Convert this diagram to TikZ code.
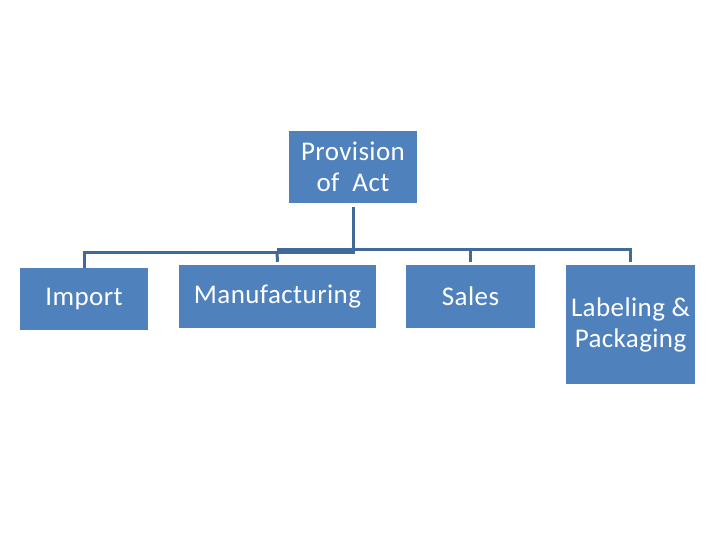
\documentclass[tikz,border=0pt]{standalone}
\usepackage{fontspec}
\setmainfont{Carlito}[LetterSpace=1.5]
\definecolor{boxblue}{HTML}{4F81BD}
\definecolor{lineblue}{HTML}{416A9B}
\begin{document}
\begin{tikzpicture}[x=1pt,y=-1pt,
  box/.style={rectangle, fill=boxblue, draw=none, inner sep=0pt, text=white,
    align=center, font=\fontsize{27}{31}\selectfont},
  conn/.style={draw=lineblue, line width=3pt}]
\useasboundingbox[fill=white] (0,0) rectangle (720,540);
\node[box, minimum width=128pt, minimum height=72pt] (top) at (353,167) {Provision\\of~ Act};
\node[box, minimum width=128pt, minimum height=62pt] (imp) at (84,299) {Import};
\node[box, minimum width=197pt, minimum height=63pt] (man) at (277.5,296.5) {Manufacturing};
\node[box, minimum width=129pt, minimum height=63pt] (sal) at (470.5,296.5) {Sales};
\node[box, minimum width=129pt, minimum height=119pt] (lab) at (630.5,324.5) {Labeling \&\\Packaging};
\coordinate (jL) at (353,252);
\coordinate (jR) at (353,249);
\coordinate (jM) at (277,252);
\coordinate (jM2) at (277,249);
\draw[conn] ([yshift=-4pt]top.south) -- (jL) -| (imp.north);
\draw[conn] (jM) -- ([yshift=3pt]man.north);
\draw[conn] (jM2) -- (jR) -| ([yshift=3pt]sal.north);
\draw[conn] (jR) -| ([yshift=3pt]lab.north);
\end{tikzpicture}
\end{document}
